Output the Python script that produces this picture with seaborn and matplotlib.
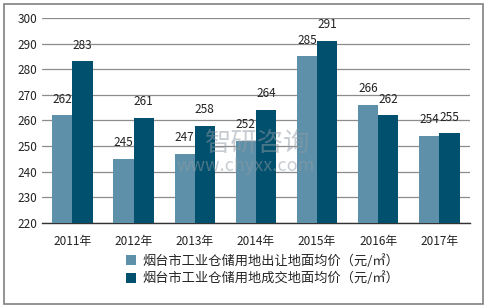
import matplotlib
matplotlib.use("Agg")
import matplotlib.pyplot as plt
import seaborn as sns
import pandas as pd
from matplotlib.patches import Rectangle

years = ["2011年", "2012年", "2013年", "2014年", "2015年", "2016年", "2017年"]
series_names = ["烟台市工业仓储用地出让地面均价（元/㎡）", "烟台市工业仓储用地成交地面均价（元/㎡）"]
transfer_price = [262, 245, 247, 252, 285, 266, 254]
deal_price = [283, 261, 258, 264, 291, 262, 255]
colors = ["#5e91a9", "#01506d"]

sns.set_theme(style="white")
plt.rcParams['font.family'] = ['Noto Sans CJK SC', 'DejaVu Sans']

df = pd.DataFrame({
    "year": years * 2,
    "value": transfer_price + deal_price,
    "series": [series_names[0]] * len(years) + [series_names[1]] * len(years),
})

fig = plt.figure(figsize=(4.87, 3.08), dpi=100)
ax = fig.add_axes([0.086, 0.276, 0.879, 0.666])
sns.barplot(data=df, x="year", y="value", hue="series", palette=colors,
            width=0.66, ax=ax, saturation=1, errorbar=None, zorder=3,
            linewidth=0, edgecolor="none")

ax.set_ylim(220, 300)
ax.set_yticks(range(220, 301, 10))
ax.yaxis.grid(True, color="#8c8c8c", linewidth=0.9, zorder=0)
ax.set_axisbelow(True)
for s in ["top", "right", "left"]:
    ax.spines[s].set_visible(False)
ax.spines["bottom"].set_color("#333333")
ax.spines["bottom"].set_linewidth(1.0)
ax.tick_params(axis="both", length=0, labelsize=8.5, colors="#222222")
ax.tick_params(axis="x", pad=9)
ax.set_xlabel("")
ax.set_ylabel("")

for cont in ax.containers:
    ax.bar_label(cont, padding=7, fontsize=8.5, color="#222222")

handles, labels = ax.get_legend_handles_labels()
ax.legend(handles, labels, loc="upper left", bbox_to_anchor=(0.185, -0.125),
          frameon=False, fontsize=9.5, handlelength=0.75, handleheight=0.75,
          handletextpad=0.45, labelspacing=0.3, borderaxespad=0)

# watermark
fig.text(0.53, 0.535, "智研咨询", fontsize=19, color="#8f9ba4", alpha=0.5,
         ha="center", va="center", zorder=10)
fig.text(0.505, 0.462, "www.chyxx.com", fontsize=13, color="#8f9ba4", alpha=0.5,
         ha="center", va="center", zorder=10)

fig.patches.append(Rectangle((0.008, 0.012), 0.984, 0.975, transform=fig.transFigure,
                             fill=False, edgecolor="#808080", linewidth=1.2))

fig.savefig("out.png", dpi=100)
